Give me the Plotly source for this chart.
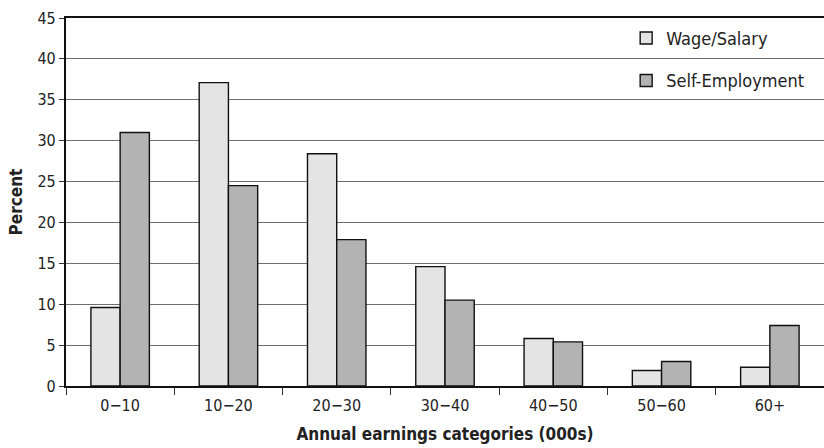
import plotly.graph_objects as go

# Earnings distribution by employment type
categories = ["0\u221210", "10\u221220", "20\u221230", "30\u221240", "40\u221250", "50\u221260", "60+"]
wage_salary = [9.6, 37.1, 28.4, 14.6, 5.8, 1.9, 2.3]
self_employment = [31.0, 24.5, 17.9, 10.5, 5.4, 3.0, 7.4]
y_ticks = [0, 5, 10, 15, 20, 25, 30, 35, 40, 45]

FONT = "Liberation Sans Narrow, DejaVu Sans Condensed, Arial Narrow, sans-serif"

fig = go.Figure()
fig.add_trace(go.Bar(
    x=categories, y=wage_salary, name="Wage/Salary", legendgroup="w",
    marker=dict(color="#e4e4e4", line=dict(color="#111111", width=1.4)),
))
fig.add_trace(go.Bar(
    x=categories, y=self_employment, name="Self-Employment", legendgroup="s",
    marker=dict(color="#b3b3b3", line=dict(color="#111111", width=1.4)),
))

fig.update_layout(
    width=824, height=448,
    margin=dict(l=66, r=0, t=18, b=62),
    paper_bgcolor="white", plot_bgcolor="white",
    barmode="group", bargap=0.46, bargroupgap=0,
    font=dict(family=FONT, size=15, color="#222222"),
    showlegend=True,
    legend=dict(
        x=0.739, y=0.995, xanchor="left", yanchor="top",
        bgcolor="rgba(0,0,0,0)", traceorder="grouped", tracegroupgap=16,
        font=dict(family=FONT, size=18, color="#222222"),
    ),
    xaxis=dict(
        type="category", tickson="boundaries", ticks="outside", ticklen=7,
        tickwidth=1.2, tickcolor="#333333", ticklabelstandoff=4,
        showline=True, linecolor="#111111", linewidth=2.2, mirror=True,
        showgrid=False,
        tickfont=dict(family=FONT, size=16, color="#222222"),
        title=dict(text="<b>Annual earnings categories (000s)</b>", standoff=14,
                   font=dict(family=FONT, size=17, color="#222222")),
    ),
    yaxis=dict(
        range=[0, 45], tickvals=y_ticks, ticks="outside", ticklen=5,
        tickwidth=1.2, tickcolor="#333333",
        showline=True, linecolor="#111111", linewidth=2.2,
        showgrid=True, gridcolor="#6f6f6f", gridwidth=1.3,
        zeroline=False,
        tickfont=dict(family=FONT, size=16, color="#222222"),
        title=dict(text="<b>Percent</b>", standoff=10,
                   font=dict(family=FONT, size=17, color="#222222")),
    ),
)

fig.write_html("out.html")
